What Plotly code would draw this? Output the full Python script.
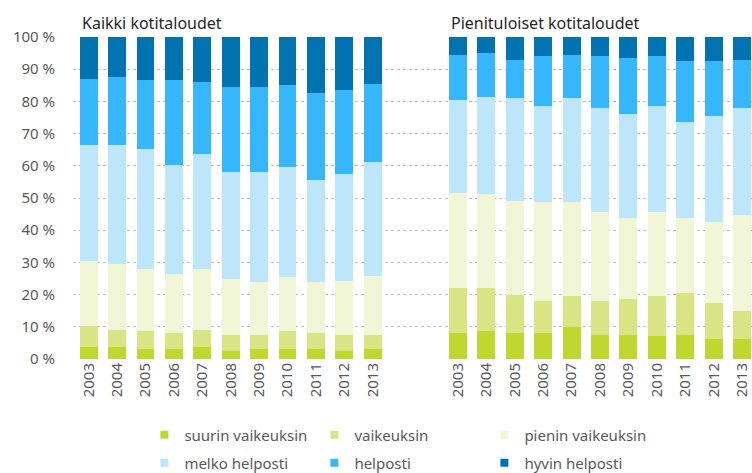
import plotly.graph_objects as go

years = ["2003", "2004", "2005", "2006", "2007", "2008", "2009", "2010", "2011", "2012", "2013"]
series_names = ["suurin vaikeuksin", "vaikeuksin", "pienin vaikeuksin",
                "melko helposti", "helposti", "hyvin helposti"]
colors = ["#C0D72F", "#D9E584", "#F0F6D6", "#BEE6FB", "#36B7FC", "#0073B0"]

group_titles = ["Kaikki kotitaloudet", "Pienituloiset kotitaloudet"]

y_ticks = list(range(0, 101, 10))
y_tick_labels = [f"{v} %" for v in y_ticks]

# Kaikki kotitaloudet (%)
all_suurin = [3.6, 3.6, 3.1, 3.1, 3.6, 2.6, 3.1, 3.1, 3.1, 2.6, 3.1]
all_vaik = [6.5, 5.5, 5.5, 4.9, 5.5, 4.9, 4.4, 5.5, 4.9, 4.9, 4.4]
all_pienin = [20.2, 20.3, 19.2, 18.4, 18.7, 17.3, 16.3, 16.8, 15.8, 16.8, 18.4]
all_melko = [36.3, 37.2, 37.3, 33.8, 35.9, 33.3, 34.3, 34.3, 31.8, 33.0, 35.2]
all_help = [20.4, 21.0, 21.4, 26.3, 22.3, 26.4, 26.4, 25.3, 27.0, 26.3, 24.4]
all_hyvin = [13.0, 12.4, 13.5, 13.5, 14.0, 15.5, 15.5, 15.0, 17.4, 16.4, 14.5]

# Pienituloiset kotitaloudet (%)
low_suurin = [8.0, 8.6, 8.0, 8.0, 10.0, 7.5, 7.5, 7.1, 7.5, 6.1, 6.1]
low_vaik = [13.9, 13.3, 11.9, 9.9, 9.5, 10.4, 11.0, 12.4, 12.9, 11.3, 8.8]
low_pienin = [29.7, 29.2, 29.3, 30.8, 29.2, 27.8, 25.2, 26.2, 23.3, 25.3, 29.8]
low_melko = [28.9, 30.4, 31.8, 29.8, 32.3, 32.3, 32.4, 32.8, 29.9, 32.8, 33.3]
low_help = [14.0, 13.5, 12.0, 15.5, 13.5, 16.0, 17.4, 15.5, 18.8, 16.9, 15.0]
low_hyvin = [5.5, 5.0, 7.0, 6.0, 5.5, 6.0, 6.5, 6.0, 7.6, 7.6, 7.0]

all_series = [all_suurin, all_vaik, all_pienin, all_melko, all_help, all_hyvin]
low_series = [low_suurin, low_vaik, low_pienin, low_melko, low_help, low_hyvin]

gap_slots = 2
n = len(years)
x_left = list(range(n))
x_right = [n + gap_slots + i for i in range(n)]
x_all = x_left + x_right
tick_text = years + years

font_family = "Noto Sans, Open Sans, sans-serif"
grey = "#595959"

fig = go.Figure()
for name, col, a, b in zip(series_names, colors, all_series, low_series):
    fig.add_trace(go.Bar(
        x=x_all, y=a + b, name=name,
        marker=dict(color=col, line=dict(width=0)),
        showlegend=False, hoverinfo="name+y",
    ))
# legend entries with small square markers, first row in legend, second row in legend2
for i, (name, col) in enumerate(zip(series_names, colors)):
    fig.add_trace(go.Scatter(
        x=[None], y=[None], mode="markers", name=name,
        marker=dict(symbol="square", size=8, color=col),
        legend="legend" if i < 3 else "legend2",
    ))

bargap = 0.37
half = (1 - bargap) / 2
for title, x0 in zip(group_titles, [x_left[0], x_right[0]]):
    fig.add_annotation(
        text=title, xref="x", yref="paper", x=x0 - half, y=1.0425,
        xanchor="left", yanchor="middle", showarrow=False,
        font=dict(family=font_family, size=16, color="#262626"),
    )

legend_common = dict(
    orientation="h", xref="container", yref="container",
    xanchor="left", yanchor="middle",
    traceorder="normal", entrywidth=125, entrywidthmode="pixels",
    itemwidth=30, font=dict(size=15, color=grey),
    bgcolor="rgba(0,0,0,0)",
)

fig.update_layout(
    width=752, height=473,
    margin=dict(l=73, r=0, t=37, b=114, autoexpand=False),
    barmode="stack", bargap=bargap,
    plot_bgcolor="white", paper_bgcolor="white",
    font=dict(family=font_family, color=grey),
    showlegend=True,
    legend=dict(legend_common, x=0.192, y=1 - 435 / 473),
    legend2=dict(legend_common, x=0.192, y=1 - 463 / 473),
    xaxis=dict(
        range=[-0.55, 23.35], tickmode="array", tickvals=x_all, ticktext=tick_text,
        tickangle=-90, tickfont=dict(size=15, color=grey), showgrid=False,
        zeroline=False, showline=False, ticks="",
    ),
    yaxis=dict(
        range=[0, 100], tickmode="array", tickvals=y_ticks, ticktext=y_tick_labels,
        tickfont=dict(size=15, color=grey), showgrid=True, gridcolor="#BFBFBF",
        griddash="dot", gridwidth=1, zeroline=False, showline=False,
        ticklabelstandoff=17,
    ),
)

fig.write_html("out.html", config={"displayModeBar": False},
               post_script="document.body.style.margin='0';")
